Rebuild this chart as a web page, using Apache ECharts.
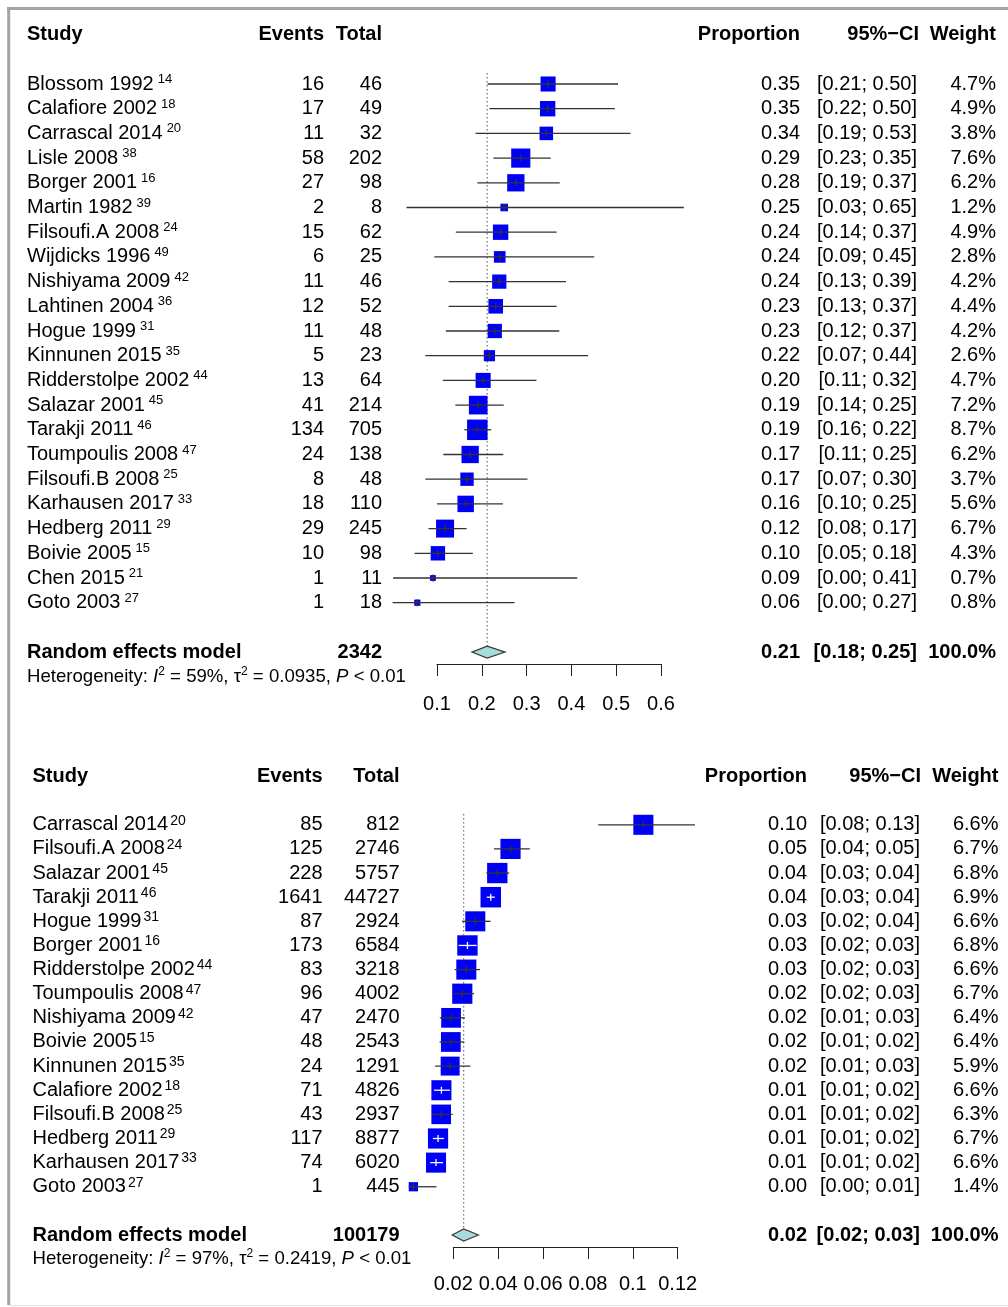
<!DOCTYPE html>
<html>
<head>
<meta charset="utf-8">
<title>Forest plots of proportions</title>
<script src="https://cdn.jsdelivr.net/npm/echarts@6/dist/echarts.min.js"></script>
<style>
  html, body { margin: 0; padding: 0; background: #ffffff; }
  #chart { width: 1008px; height: 1307px; }
</style>
</head>
<body>
<div id="chart"></div>
<script>
// ---------- Panel A: studies with event counts out of small cohorts ----------
const studiesA = ['Blossom 1992', 'Calafiore 2002', 'Carrascal 2014', 'Lisle 2008', 'Borger 2001',
  'Martin 1982', 'Filsoufi.A 2008', 'Wijdicks 1996', 'Nishiyama 2009', 'Lahtinen 2004',
  'Hogue 1999', 'Kinnunen 2015', 'Ridderstolpe 2002', 'Salazar 2001', 'Tarakji 2011',
  'Toumpoulis 2008', 'Filsoufi.B 2008', 'Karhausen 2017', 'Hedberg 2011', 'Boivie 2005',
  'Chen 2015', 'Goto 2003'];
const refsA = ['14', '18', '20', '38', '16', '39', '24', '49', '42', '36', '31', '35', '44', '45',
  '46', '47', '25', '33', '29', '15', '21', '27'];
const eventsA = [16, 17, 11, 58, 27, 2, 15, 6, 11, 12, 11, 5, 13, 41, 134, 24, 8, 18, 29, 10, 1, 1];
const totalsA = [46, 49, 32, 202, 98, 8, 62, 25, 46, 52, 48, 23, 64, 214, 705, 138, 48, 110, 245, 98, 11, 18];
const propA = [0.348, 0.347, 0.344, 0.287, 0.276, 0.250, 0.242, 0.240, 0.239, 0.231, 0.229,
  0.217, 0.203, 0.192, 0.190, 0.174, 0.167, 0.164, 0.118, 0.102, 0.091, 0.056];
const lowA = [0.213, 0.217, 0.186, 0.226, 0.190, 0.032, 0.142, 0.094, 0.126, 0.126, 0.120,
  0.074, 0.113, 0.141, 0.161, 0.114, 0.074, 0.100, 0.081, 0.050, 0.002, 0.001];
const highA = [0.504, 0.497, 0.532, 0.354, 0.374, 0.651, 0.367, 0.451, 0.388, 0.367, 0.373,
  0.437, 0.322, 0.249, 0.221, 0.248, 0.302, 0.247, 0.166, 0.180, 0.413, 0.273];
const weightsA = [4.7, 4.9, 3.8, 7.6, 6.2, 1.2, 4.9, 2.8, 4.2, 4.4, 4.2, 2.6, 4.7, 7.2, 8.7,
  6.2, 3.7, 5.6, 6.7, 4.3, 0.7, 0.8];
const pooledA = [0.212, 0.178, 0.252];          // estimate, lower, upper
const pooledTotalA = 2342;
const hetA = ['59%', '0.0935', '0.01'];          // I^2, tau^2, P bound
const ticksA = [0.1, 0.6, 0.1];                  // min, max, step

// ---------- Panel B: studies from large registries ----------
const studiesB = ['Carrascal 2014', 'Filsoufi.A 2008', 'Salazar 2001', 'Tarakji 2011', 'Hogue 1999',
  'Borger 2001', 'Ridderstolpe 2002', 'Toumpoulis 2008', 'Nishiyama 2009', 'Boivie 2005',
  'Kinnunen 2015', 'Calafiore 2002', 'Filsoufi.B 2008', 'Hedberg 2011', 'Karhausen 2017', 'Goto 2003'];
const refsB = ['20', '24', '45', '46', '31', '16', '44', '47', '42', '15', '35', '18', '25', '29', '33', '27'];
const eventsB = [85, 125, 228, 1641, 87, 173, 83, 96, 47, 48, 24, 71, 43, 117, 74, 1];
const totalsB = [812, 2746, 5757, 44727, 2924, 6584, 3218, 4002, 2470, 2543, 1291, 4826, 2937, 8877, 6020, 445];
const propB = [0.1047, 0.0455, 0.0396, 0.0367, 0.0298, 0.0263, 0.0258, 0.0240, 0.0190, 0.0189,
  0.0186, 0.0147, 0.0146, 0.0132, 0.0123, 0.0022];
const lowB = [0.0846, 0.0381, 0.0347, 0.0349, 0.0239, 0.0224, 0.0206, 0.0196, 0.0140, 0.0139,
  0.0119, 0.0114, 0.0106, 0.0109, 0.0097, 0.0001];
const highB = [0.1277, 0.0541, 0.0449, 0.0385, 0.0366, 0.0304, 0.0319, 0.0292, 0.0252, 0.0249,
  0.0276, 0.0185, 0.0197, 0.0158, 0.0154, 0.0125];
const weightsB = [6.6, 6.7, 6.8, 6.9, 6.6, 6.8, 6.6, 6.7, 6.4, 6.4, 5.9, 6.6, 6.3, 6.7, 6.6, 1.4];
const pooledB = [0.0246, 0.0195, 0.0312];
const pooledTotalB = 100179;
const hetB = ['97%', '0.2419', '0.01'];
const ticksB = [0.02, 0.12, 0.02];

// ---------- drawing ----------
const FONT = '"Liberation Sans", Arial, Helvetica, sans-serif';
const BOX_MAX = 20.5;        // side of the heaviest study's square, px

function txt(x, y, text, opt) {
  return {
    type: 'text', x: x, y: y,
    style: Object.assign({
      text: text, fill: '#000', fontFamily: FONT, fontSize: 20,
      align: 'right', verticalAlign: 'middle'
    }, opt || {})
  };
}

function buildPanel(d, L, gi) {
  const n = d.studies.length;
  const yMin = -2.4;
  const yMax = (L.axisY - L.row0) / L.rowH;
  const gridTop = L.row0 + yMin * L.rowH;
  const maxW = Math.max.apply(null, d.weights);
  const fmt2 = v => v.toFixed(2);

  const grid = { left: L.left, width: L.width, top: gridTop, height: L.axisY - gridTop };
  const xAxis = {
    type: 'value', gridIndex: gi, min: d.ticks[0], max: d.ticks[1], interval: d.ticks[2],
    position: 'bottom',
    axisLine: { show: true, onZero: false, lineStyle: { color: '#222', width: 1 } },
    axisTick: { show: true, length: 12, lineStyle: { color: '#222', width: 1 } },
    axisLabel: {
      show: true, margin: L.labelMargin, color: '#000', fontFamily: FONT, fontSize: 20,
      formatter: v => String(+(+v).toFixed(3))
    },
    splitLine: { show: false }
  };
  const yAxis = { type: 'value', gridIndex: gi, inverse: true, min: yMin, max: yMax, show: false };

  // squares, confidence intervals and point ticks
  const marks = {
    type: 'custom', name: 'studies' + gi, xAxisIndex: gi, yAxisIndex: gi, z: 3, silent: true,
    clip: false,
    encode: { x: [1, 2, 3], y: 0 },
    data: d.studies.map((_, i) => [i, d.prop[i], d.low[i], d.high[i], d.weights[i]]),
    renderItem: function (params, api) {
      const i = api.value(0);
      const c = api.coord([api.value(1), i]);
      const pl = api.coord([api.value(2), i]);
      const ph = api.coord([api.value(3), i]);
      const side = BOX_MAX * Math.sqrt(api.value(4) / maxW);
      const inside = pl[0] >= c[0] - side / 2 && ph[0] <= c[0] + side / 2;
      const col = inside ? '#ffffff' : '#333333';
      return {
        type: 'group', children: [
          { type: 'rect', shape: { x: c[0] - side / 2, y: c[1] - side / 2, width: side, height: side },
            style: { fill: '#0000f5' } },
          { type: 'line', shape: { x1: pl[0], y1: c[1], x2: ph[0], y2: c[1] },
            style: { stroke: col, lineWidth: 1.3 } },
          { type: 'line', shape: { x1: c[0], y1: c[1] - 3.5, x2: c[0], y2: c[1] + 3.5 },
            style: { stroke: col, lineWidth: 1.3 } }
        ]
      };
    }
  };

  // study table: name with reference, events, total, proportion, CI, weight
  const table = {
    type: 'custom', name: 'table' + gi, xAxisIndex: gi, yAxisIndex: gi, z: 2, silent: true,
    clip: false,
    encode: { x: 0, y: 1 },
    data: d.studies.map((_, i) => [d.ticks[0], i]),
    renderItem: function (params, api) {
      const i = api.value(1);
      const y = api.coord([d.ticks[0], i])[1];
      return {
        type: 'group', children: [
          txt(L.col.study, y, '{n|' + d.studies[i] + '}{s|' + d.refs[i] + '}', {
            align: 'left',
            rich: {
              n: { fontFamily: FONT, fontSize: 20, lineHeight: 22, fill: '#000', verticalAlign: 'middle' },
              s: { fontFamily: FONT, fontSize: L.supSize, lineHeight: L.supLH, fill: '#000',
                   verticalAlign: 'top', padding: [0, 0, 0, L.supPad] }
            }
          }),
          txt(L.col.events, y, String(d.events[i])),
          txt(L.col.total, y, String(d.totals[i])),
          txt(L.col.prop, y, fmt2(d.prop[i])),
          txt(L.col.ci, y, '[' + fmt2(d.low[i]) + '; ' + fmt2(d.high[i]) + ']'),
          txt(L.col.weight, y, d.weights[i].toFixed(1) + '%')
        ]
      };
    }
  };

  // headers, pooled estimate diamond, reference line and heterogeneity line
  const summary = {
    type: 'custom', name: 'pooled' + gi, xAxisIndex: gi, yAxisIndex: gi, z: 1, silent: true,
    clip: false,
    encode: { x: [0, 1, 2], y: 3 },
    data: [[d.pooled[0], d.pooled[1], d.pooled[2], n + 1]],
    renderItem: function (params, api) {
      const row = api.value(3);
      const c = api.coord([api.value(0), row]);
      const xl = api.coord([api.value(1), row])[0];
      const xh = api.coord([api.value(2), row])[0];
      const hh = 6;
      const yHead = api.coord([d.ticks[0], -2])[1];
      const yHet = api.coord([d.ticks[0], n + 2])[1];
      const yRefTop = api.coord([d.ticks[0], -0.45])[1];
      const bold = { fontWeight: 'bold', fontSize: 20 };
      const hs = { fontFamily: FONT, fontSize: 18.6, lineHeight: 22, fill: '#000', verticalAlign: 'middle' };
      return {
        type: 'group', children: [
          { type: 'line', shape: { x1: c[0], y1: yRefTop, x2: c[0], y2: c[1] - hh },
            style: { stroke: '#7a7a7a', lineWidth: 1.3, lineDash: [1.5, 2.5] } },
          { type: 'polygon',
            shape: { points: [[xl, c[1]], [c[0], c[1] - hh], [xh, c[1]], [c[0], c[1] + hh]] },
            style: { fill: '#a7dcdf', stroke: '#3a3a3a', lineWidth: 1.2 } },
          txt(L.col.study, yHead, 'Study', Object.assign({ align: 'left' }, bold)),
          txt(L.col.events, yHead, 'Events', bold),
          txt(L.col.total, yHead, 'Total', bold),
          txt(L.col.prop, yHead, 'Proportion', bold),
          txt(L.col.ciHead, yHead, '95%\u2212CI', bold),
          txt(L.col.weight, yHead, 'Weight', bold),
          txt(L.col.study, c[1], 'Random effects model', Object.assign({ align: 'left' }, bold)),
          txt(L.col.total, c[1], String(d.pooledTotal), bold),
          txt(L.col.prop, c[1], fmt2(d.pooled[0]), bold),
          txt(L.col.ci, c[1], '[' + fmt2(d.pooled[1]) + '; ' + fmt2(d.pooled[2]) + ']', bold),
          txt(L.col.weight, c[1], '100.0%', bold),
          txt(L.col.study, yHet,
            '{h|Heterogeneity: }{i|I}{s|2}{h| = ' + d.het[0] + ', }{h|\u03c4}{s|2}{h| = ' + d.het[1] +
            ', }{i|P}{h| < ' + d.het[2] + '}', {
              align: 'left',
              rich: {
                h: hs,
                i: Object.assign({}, hs, { fontStyle: 'italic' }),
                s: { fontFamily: FONT, fontSize: 12, lineHeight: 12, fill: '#000', verticalAlign: 'top' }
              }
            })
        ]
      };
    }
  };

  return { grid, xAxis, yAxis, series: [summary, table, marks] };
}

const panelA = buildPanel({
  studies: studiesA, refs: refsA, events: eventsA, totals: totalsA, prop: propA, low: lowA,
  high: highA, weights: weightsA, pooled: pooledA, pooledTotal: pooledTotalA, het: hetA, ticks: ticksA
}, {
  left: 437, width: 224, row0: 84, rowH: 24.7, axisY: 664, labelMargin: 30,
  supSize: 13, supLH: 16, supPad: 4,
  col: { study: 27, events: 324, total: 382, prop: 800, ci: 917, ciHead: 919, weight: 996 }
}, 0);

const panelB = buildPanel({
  studies: studiesB, refs: refsB, events: eventsB, totals: totalsB, prop: propB, low: lowB,
  high: highB, weights: weightsB, pooled: pooledB, pooledTotal: pooledTotalB, het: hetB, ticks: ticksB
}, {
  left: 453.3, width: 224.4, row0: 824.8, rowH: 24.13, axisY: 1247, labelMargin: 27,
  supSize: 14, supLH: 12, supPad: 2,
  col: { study: 32.5, events: 322.5, total: 399.5, prop: 807, ci: 920, ciHead: 921, weight: 998.5 }
}, 1);

const chart = echarts.init(document.getElementById('chart'), null, { renderer: 'canvas' });
chart.setOption({
  backgroundColor: '#ffffff',
  animation: false,
  grid: [panelA.grid, panelB.grid],
  xAxis: [panelA.xAxis, panelB.xAxis],
  yAxis: [panelA.yAxis, panelB.yAxis],
  series: panelA.series.concat(panelB.series),
  graphic: [
    { type: 'line', shape: { x1: 7, y1: 8.5, x2: 1008, y2: 8.5 }, style: { stroke: '#a3a3a3', lineWidth: 3 } },
    { type: 'line', shape: { x1: 8.7, y1: 7, x2: 8.7, y2: 1305 }, style: { stroke: '#a3a3a3', lineWidth: 3 } },
    { type: 'line', shape: { x1: 9, y1: 1305.5, x2: 1008, y2: 1305.5 }, style: { stroke: '#e2e2e2', lineWidth: 1 } }
  ]
});
</script>
</body>
</html>
